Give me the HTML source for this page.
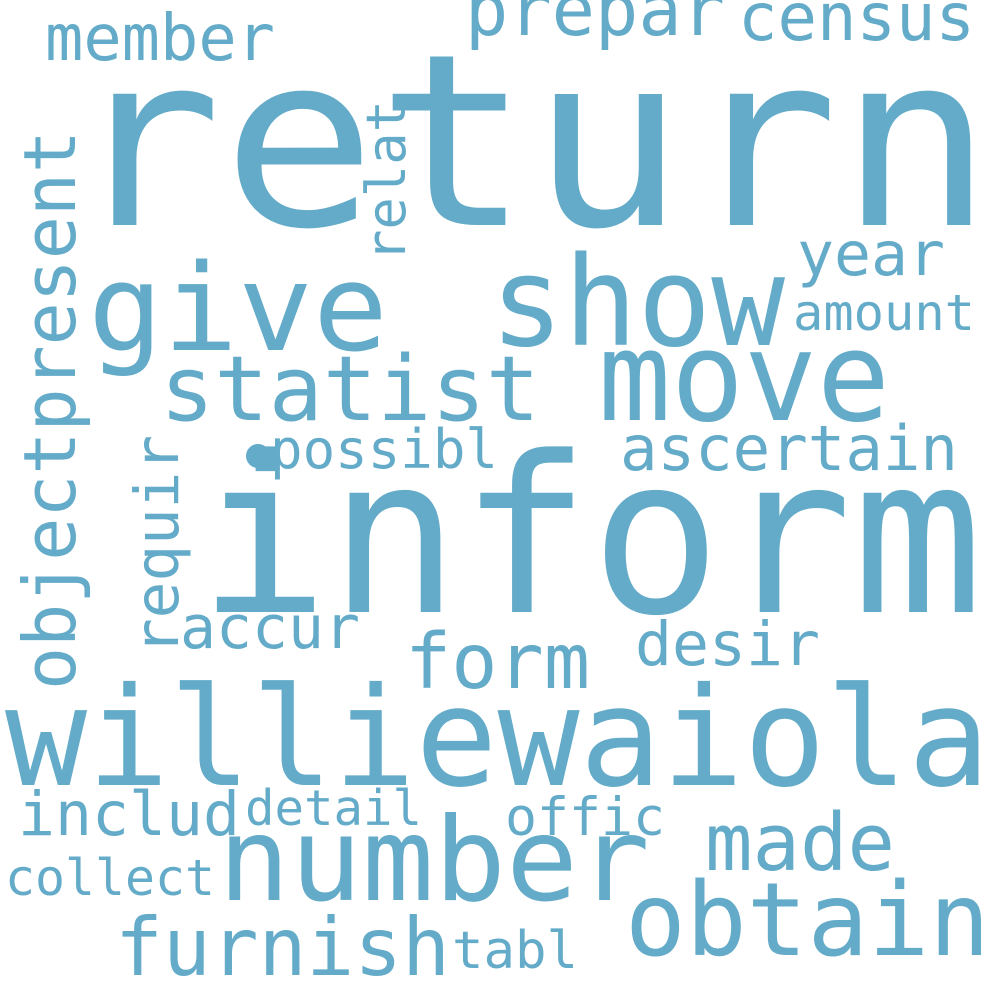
<!DOCTYPE html>
<html><head><meta charset="utf-8"><style>
html,body{margin:0;padding:0;background:#fff;width:1000px;height:1000px;overflow:hidden}
svg text{font-family:"DejaVu Sans Mono","Liberation Mono",monospace;fill:#63abc8}
</style></head><body>
<svg width="1000" height="1000" viewBox="0 0 1000 1000">
<g id="words"></g>
</svg>
<script>
// word, x-start, baseline, font-size, length, rotated
const words=["return","inform","williewaiola","give","show","move","statist","number","obtain","furnish","made","form","ascertain","desir","year","amount","possibl","accur","includ","detail","offic","collect","tabl","member","prepar","census","objectpresent","requir","relat"];
const xs=[68,198,5,88,490,598,160,218,625,115,705,405,620,635,797,793,270,180,18,245,505,5,452,45,465,738,75,178,405];
const ys=[225,612,785,350,345,420,420,900,955,975,870,688,470,665,275,330,468,648,835,825,835,895,968,60,35,40,690,655,262];
const sizes=[240,218,137,120,124,124,90,116,102,80,79,77,62,61,61,50,54,60,61,49,53,50,52,64,72,66,72,61,54];
const lens=[925,785,985,300,295,292,380,432,365,335,190,185,338,185,148,182,228,180,222,177,160,210,126,230,260,237,560,220,162];
const rot=[0,0,0,0,0,0,0,0,0,0,0,0,0,0,0,0,0,0,0,0,0,0,0,0,0,0,1,1,1];
const g=document.getElementById('words');
const NS="http://www.w3.org/2000/svg";
words.forEach((w,i)=>{
  const t=document.createElementNS(NS,'text');
  t.textContent=w;
  t.setAttribute('font-size',sizes[i]);
  t.setAttribute('textLength',lens[i]);
  t.setAttribute('lengthAdjust','spacingAndGlyphs');
  if(rot[i]){
    t.setAttribute('transform','translate('+xs[i]+','+ys[i]+') rotate(-90)');
  }else{
    t.setAttribute('x',xs[i]);t.setAttribute('y',ys[i]);
  }
  
  
  g.appendChild(t);
});
const dot=document.createElementNS(NS,'circle');
dot.setAttribute('cx',258);dot.setAttribute('cy',456);dot.setAttribute('r',12);
dot.setAttribute('fill','#63abc8');


g.appendChild(dot);
</script>
</body></html>
